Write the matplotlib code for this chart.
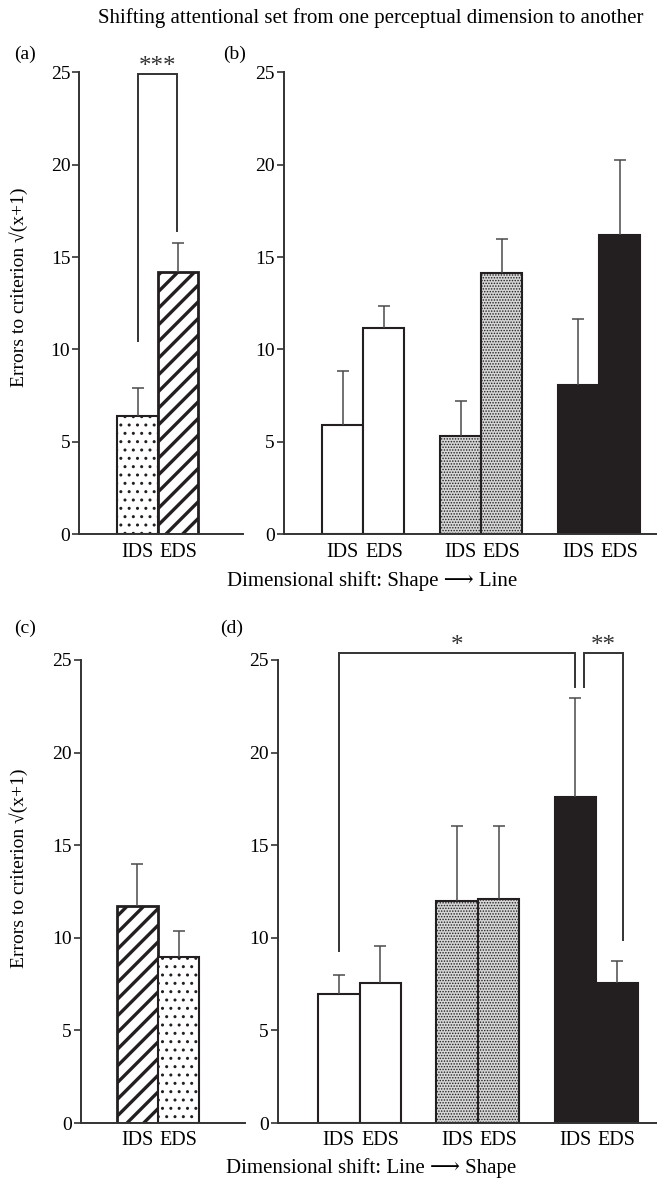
import matplotlib
matplotlib.use("Agg")
import matplotlib.pyplot as plt
import numpy as np

# --- données -------------------------------------------------------------
conditions = ["IDS", "EDS"]
yticks = [0, 5, 10, 15, 20, 25]

# (a) Shape -> Line, groupes confondus
a_means = [6.4, 14.2]
a_errs = [1.5, 1.55]

# (b) Shape -> Line, par groupe (blanc, pointillé, noir)
b_ids_means = [5.92, 5.32, 8.08]
b_ids_errs = [2.93, 1.87, 3.57]
b_eds_means = [11.19, 14.14, 16.2]
b_eds_errs = [1.15, 1.83, 4.07]

# (c) Line -> Shape, groupes confondus
c_means = [11.71, 8.95]
c_errs = [2.29, 1.41]

# (d) Line -> Shape, par groupe
d_ids_means = [6.95, 11.99, 17.59]
d_ids_errs = [1.06, 4.07, 5.34]
d_eds_means = [7.56, 12.08, 7.56]
d_eds_errs = [1.99, 3.98, 1.18]

# crochets de significativité : (bas gauche, bas droit, haut)
a_bracket = (10.46, 16.4, 24.9)
d_bracket_left = (9.28, 23.56, 25.36)
d_bracket_right = (23.56, 9.87, 25.36)

W, H = 657, 1185
SERIF = ["Liberation Serif", "DejaVu Serif", "DejaVu Sans"]
plt.rcParams["font.family"] = SERIF
plt.rcParams["hatch.color"] = "black"

INK = "#231f20"
ERR = "#4a4a4a"
YLABEL = "Errors to criterion \u221a(x+1)"

# styles de remplissage
STY = {
    "white": dict(fc="white", ec=INK, lw=1.5, hatch=None, hlw=1.0),
    "dots": dict(fc="white", ec=INK, lw=1.5, hatch="..", hlw=1.0),
    "diag": dict(fc="white", ec=INK, lw=2.0, hatch="//", hlw=2.4),
    "stip": dict(fc="#d6d6d6", ec=INK, lw=1.5, hatch="......", hlw=0.7),
    "black": dict(fc=INK, ec=INK, lw=1.5, hatch=None, hlw=1.0),
}

fig = plt.figure(figsize=(W / 100, H / 100), dpi=100)


def px_axes(left, right, y0, y25):
    """Axes placé en pixels (bord gauche/droit, y du 0 et du 25)."""
    ax = fig.add_axes([left / W, 1 - y0 / H, (right - left) / W, (y0 - y25) / H])
    ax.set_ylim(0, 25)
    ax.set_yticks(yticks)
    for s in ("top", "right"):
        ax.spines[s].set_visible(False)
    for s in ("left", "bottom"):
        ax.spines[s].set_linewidth(1.4)
        ax.spines[s].set_color("#333333")
    ax.tick_params(axis="y", direction="out", length=5, width=1.2,
                   color="#333333", labelsize=14, pad=1.5)
    ax.tick_params(axis="x", length=0, labelsize=14.5, pad=6)
    return ax


def draw_bars(ax, xs, means, errs, style):
    st = STY[style]
    with plt.rc_context({"hatch.linewidth": st["hlw"]}):
        ax.bar(xs, means, width=1.0, facecolor=st["fc"], edgecolor=st["ec"],
               linewidth=st["lw"], hatch=st["hatch"], zorder=2)
    tops = np.asarray(means) + np.asarray(errs)
    ax.vlines(xs, means, tops, color=ERR, lw=1.1, zorder=3)
    ax.plot(xs, tops, ls="none", marker="_", ms=8, mew=1.1, color=ERR, zorder=3)


def bracket(ax, x0, x1, ys, stars):
    lo0, lo1, top = ys
    ax.plot([x0, x0, x1, x1], [lo0, top, top, lo1], color="#333333", lw=1.4,
            clip_on=False, zorder=4, solid_joinstyle="miter")
    ax.text((x0 + x1) / 2, top + 0.05, stars, ha="center", va="baseline",
            fontsize=18, color="#333333")


def pair_positions(n_groups, spacing):
    centers = np.arange(n_groups) * spacing
    return centers - 0.5, centers + 0.5


# --- (a) -------------------------------------------------------------------
ax_a = px_axes(79.3, 243, 534.3, 72.3)
ax_a.set_xlim(-1.94, 2.1)
draw_bars(ax_a, [-0.5], [a_means[0]], [a_errs[0]], "dots")
draw_bars(ax_a, [0.5], [a_means[1]], [a_errs[1]], "diag")
ax_a.set_xticks([-0.5, 0.5], conditions)
bracket(ax_a, -0.5, 0.46, a_bracket, "***")
ax_a.set_ylabel(YLABEL, fontsize=14)
ax_a.yaxis.set_label_coords(-0.315, 0.535)

# --- (b) -------------------------------------------------------------------
ax_b = px_axes(284, 657, 534.3, 72.3)
ax_b.set_xlim(-1.925, 7.13)
ids_x, eds_x = pair_positions(3, 2.86)
for i, style in enumerate(("white", "stip", "black")):
    draw_bars(ax_b, [ids_x[i]], [b_ids_means[i]], [b_ids_errs[i]], style)
    draw_bars(ax_b, [eds_x[i]], [b_eds_means[i]], [b_eds_errs[i]], style)
ax_b.set_xticks(np.concatenate([ids_x, eds_x]), conditions[:1] * 3 + conditions[1:] * 3)

# --- (c) -------------------------------------------------------------------
ax_c = px_axes(80.7, 245, 1123, 660)
ax_c.set_xlim(-1.87, 2.11)
draw_bars(ax_c, [-0.5], [c_means[0]], [c_errs[0]], "diag")
draw_bars(ax_c, [0.5], [c_means[1]], [c_errs[1]], "dots")
ax_c.set_xticks([-0.5, 0.5], conditions)
ax_c.set_ylabel(YLABEL, fontsize=14)
ax_c.yaxis.set_label_coords(-0.32, 0.55)

# --- (d) -------------------------------------------------------------------
ax_d = px_axes(278, 657, 1123, 660)
ax_d.set_xlim(-1.97, 7.19)
ids_x, eds_x = pair_positions(3, 2.86)
for i, style in enumerate(("white", "stip", "black")):
    draw_bars(ax_d, [ids_x[i]], [d_ids_means[i]], [d_ids_errs[i]], style)
    draw_bars(ax_d, [eds_x[i]], [d_eds_means[i]], [d_eds_errs[i]], style)
ax_d.set_xticks(np.concatenate([ids_x, eds_x]), conditions[:1] * 3 + conditions[1:] * 3)
bracket(ax_d, ids_x[0], ids_x[2] - 0.02, d_bracket_left, "*")
bracket(ax_d, ids_x[2] + 0.21, eds_x[2] + 0.15, d_bracket_right, "**")

# --- textes -----------------------------------------------------------------
fig.text(371 / W, 1 - 18 / H,
         "Shifting attentional set from one perceptual dimension to another",
         ha="center", va="center", fontsize=15)
fig.text(372 / W, 1 - 581 / H, "Dimensional shift: Shape \u27f6 Line",
         ha="center", va="center", fontsize=15)
fig.text(371 / W, 1 - 1168 / H, "Dimensional shift: Line \u27f6 Shape",
         ha="center", va="center", fontsize=15)
for lab, x, y in (("(a)", 25, 54), ("(b)", 235, 54), ("(c)", 25, 628), ("(d)", 232, 628)):
    fig.text(x / W, 1 - y / H, lab, ha="center", va="center", fontsize=14)

fig.savefig("out.png", dpi=100)
